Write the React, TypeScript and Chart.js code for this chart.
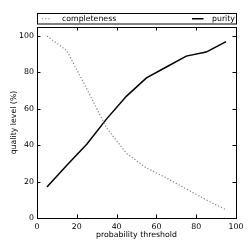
import React, { useEffect, useRef } from "react";
import { Chart, registerables } from "chart.js";

Chart.register(...registerables);

const thresholds = [5, 15, 25, 35, 45, 55, 65, 75, 85, 95];
const completeness = [100, 92, 71, 49.5, 35.5, 27.5, 22, 16, 10, 4.5];
const purity = [17, 29, 40.5, 54.5, 67, 77, 83, 89, 91.2, 97];
const tickValues = [0, 20, 40, 60, 80, 100];
const seriesNames = ["completeness", "purity"];

const FONT = "'DejaVu Sans', sans-serif";
const FS = 7.8;

const framePlugin = {
  id: "frame",
  afterDraw(chart: any) {
    const { ctx, chartArea: a, scales } = chart;
    ctx.save();
    ctx.strokeStyle = "#000";
    ctx.lineWidth = 1;
    ctx.strokeRect(Math.round(a.left) + 0.5, Math.round(a.top) + 0.5, Math.round(a.right - a.left), Math.round(a.bottom - a.top));
    const tl = 3.5;
    ctx.beginPath();
    for (const v of tickValues) {
      const x = Math.round(scales.x.getPixelForValue(v)) + 0.5;
      ctx.moveTo(x, a.bottom);
      ctx.lineTo(x, a.bottom - tl);
      ctx.moveTo(x, a.top);
      ctx.lineTo(x, a.top + tl);
      const y = Math.round(scales.y.getPixelForValue(v)) + 0.5;
      ctx.moveTo(a.left, y);
      ctx.lineTo(a.left + tl, y);
      ctx.moveTo(a.right, y);
      ctx.lineTo(a.right - tl, y);
    }
    ctx.stroke();

    // legend
    const top = 13.5;
    const bottom = 24;
    ctx.fillStyle = "#fff";
    ctx.fillRect(a.left, top, a.right - a.left, bottom - top);
    ctx.strokeStyle = "#000";
    ctx.strokeRect(Math.round(a.left) + 0.5, top, Math.round(a.right - a.left), bottom - top);
    const cy = (top + bottom) / 2;
    ctx.font = `${FS}px ${FONT}`;
    ctx.textBaseline = "middle";
    ctx.textAlign = "left";
    // completeness sample
    ctx.beginPath();
    ctx.strokeStyle = "#808080";
    ctx.lineWidth = 1.2;
    ctx.setLineDash([1.2, 2]);
    ctx.moveTo(42, cy);
    ctx.lineTo(51, cy);
    ctx.stroke();
    ctx.setLineDash([]);
    ctx.fillStyle = "#000";
    ctx.fillText(seriesNames[0], 62, cy);
    // purity sample
    ctx.beginPath();
    ctx.strokeStyle = "#000";
    ctx.lineWidth = 1.5;
    ctx.moveTo(192, cy);
    ctx.lineTo(203.5, cy);
    ctx.stroke();
    ctx.fillText(seriesNames[1], 212, cy);
    ctx.restore();
  },
};

export default function App() {
  const ref = useRef<HTMLCanvasElement>(null);
  useEffect(() => {
    const chart = new Chart(ref.current as HTMLCanvasElement, {
      type: "line",
      data: {
        datasets: [
          {
            label: seriesNames[0],
            data: thresholds.map((x, i) => ({ x, y: completeness[i] })),
            borderColor: "#808080",
            borderWidth: 1.2,
            borderDash: [1.2, 2],
            pointRadius: 0,
            tension: 0,
          },
          {
            label: seriesNames[1],
            data: thresholds.map((x, i) => ({ x, y: purity[i] })),
            borderColor: "#000",
            borderWidth: 1.5,
            pointRadius: 0,
            tension: 0,
          },
        ],
      },
      options: {
        animation: false,
        responsive: false,
        maintainAspectRatio: false,
        layout: { padding: { top: 27, right: 13, left: 0, bottom: 0 } },
        plugins: { legend: { display: false }, tooltip: { enabled: false } },
        scales: {
          x: {
            type: "linear",
            min: 0,
            max: 100,
            grid: { display: false, drawTicks: false },
            border: { display: false },
            afterBuildTicks: (s: any) => {
              s.ticks = tickValues.map((v) => ({ value: v }));
            },
            afterFit: (s: any) => {
              s.height = 31;
            },
            ticks: { color: "#000", font: { family: FONT, size: FS }, padding: 4, maxRotation: 0 },
            title: {
              display: true,
              text: "probability threshold",
              color: "#000",
              font: { family: FONT, size: FS },
              padding: { top: 0, bottom: 9 },
            },
          },
          y: {
            type: "linear",
            min: 0,
            max: 105,
            grid: { display: false, drawTicks: false },
            border: { display: false },
            afterBuildTicks: (s: any) => {
              s.ticks = tickValues.map((v) => ({ value: v }));
            },
            afterFit: (s: any) => {
              s.width = 37;
            },
            ticks: { color: "#000", font: { family: FONT, size: FS }, padding: 3 },
            title: {
              display: true,
              text: "quality level (%)",
              color: "#000",
              font: { family: FONT, size: FS },
              padding: { top: 9, bottom: 0 },
            },
          },
        },
      },
      plugins: [framePlugin],
    } as any);
    return () => chart.destroy();
  }, []);
  return (
    <div style={{ position: "absolute", left: 0, top: 0, width: 249, height: 249, background: "#fff" }}>
      <canvas ref={ref} width={249} height={249} />
    </div>
  );
}
